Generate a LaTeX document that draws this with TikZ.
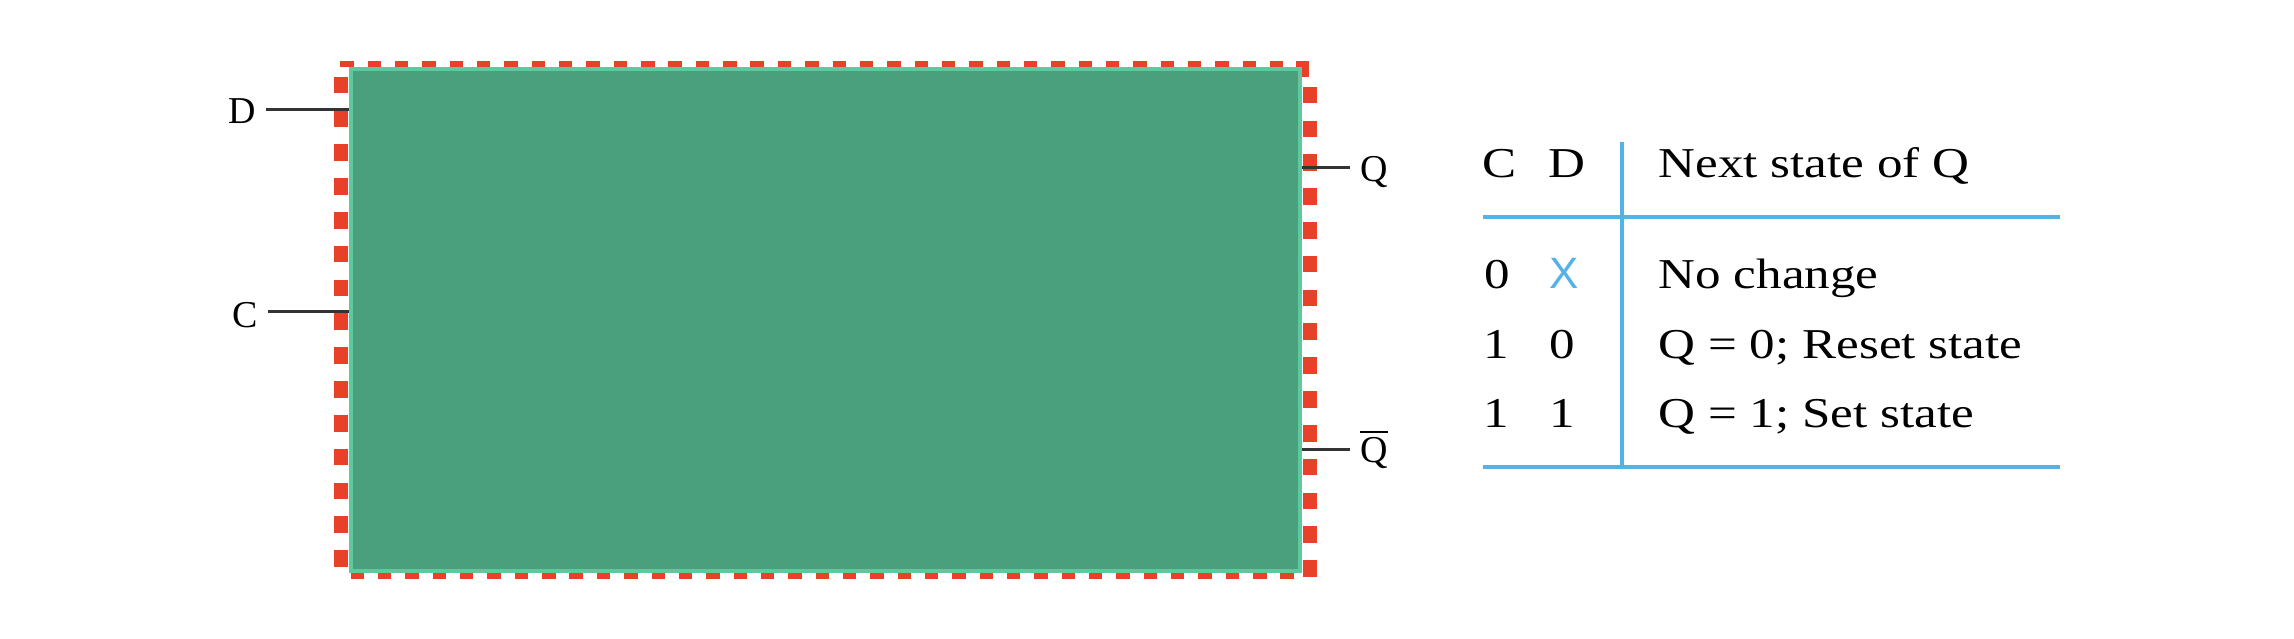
\documentclass[tikz,border=0pt]{standalone}
\usepackage{fontspec}
\setmainfont{Liberation Serif}
\newfontfamily\xsans{Liberation Sans}
\usepackage{graphicx}
\usetikzlibrary{positioning}
\definecolor{ffgreen}{HTML}{4A9F7C}
\definecolor{ffedge}{HTML}{5EC99D}
\definecolor{dashred}{HTML}{E8412A}
\definecolor{rulblue}{HTML}{55B2E6}
\definecolor{leadgray}{HTML}{333333}
\newcommand{\wide}[1]{\scalebox{1.2}[1]{#1}}

\begin{document}
\begin{tikzpicture}[x=0.01cm,y=-0.01cm]
  \tikzstyle{ffbox}=[draw=ffedge,fill=ffgreen,line width=0.04cm,minimum width=9.49cm,minimum height=5.02cm,inner sep=0pt]
  \tikzstyle{pinlbl}=[font=\fontsize{10.8}{13}\selectfont,inner sep=0pt,anchor=base]
  \tikzstyle{lead}=[draw=leadgray,line width=0.03cm]
  \tikzstyle{redh}=[draw=dashred,line width=0.06cm,dash pattern=on 0.134cm off 0.1393cm]
  \tikzstyle{redv}=[draw=dashred,line width=0.135cm,dash pattern=on 0.166cm off 0.172cm]
  \tikzstyle{cell}=[font=\fontsize{12.1}{14.5}\selectfont,inner sep=0pt,anchor=base]
  \tikzstyle{tblrule}=[draw=rulblue,line width=0.035cm]
  \useasboundingbox (0,0) rectangle (2294,638);
  % dashed outline round the block
  \draw[redh] (340.3,63.7) -- (1300,63.7);
  \draw[redh] (350.7,575.5) -- (1296,575.5);
  \draw[redv] (341,76.7) -- (341,570);
  \draw[redv] (1310,86.7) -- (1310,578);
  \draw[draw=dashred,line width=0.133cm] (1302.5,61) -- (1302.5,77);
  % the block
  \node[ffbox] (blk) at (825.5,320) {};
  % pins
  \node[pinlbl] (inD) at (242,123) {D};
  \node[pinlbl] (inC) at (245,327) {C};
  \node[pinlbl] (outQ) at (1374,181) {Q};
  \node[pinlbl] (outQn) at (1374,462) {$\overline{\hbox{Q}}$};
  \coordinate (pD) at (349,109);
  \coordinate (pC) at (349,311);
  \coordinate (pQ) at (1302,167);
  \coordinate (pQn) at (1302,449);
  \draw[lead] ([xshift=0.1cm]pD -| inD.east) -- (pD);
  \draw[lead] ([xshift=0.1cm]pC -| inC.east) -- (pC);
  \draw[lead] (pQ) -- ([xshift=-0.1cm]pQ -| outQ.west);
  \draw[lead] (pQn) -- ([xshift=-0.1cm]pQn -| outQn.west);
  % truth table
  \node[cell] (hC) at (1500,177) {\wide{C}};
  \node[cell] (hD) at (1567,177) {\wide{D}};
  \node[cell,anchor=base west] (hN) at (1658,177) {\wide{Next state of Q}};
  \node[cell] (r1c) at (1497,288) {\wide{0}};
  \node[cell,text=rulblue,font=\xsans\fontsize{12.5}{15}\selectfont] (r1d) at (1564,288) {X};
  \node[cell,anchor=base west] (r1t) at (1658,288) {\wide{No change}};
  \node[cell] (r2c) at (1496,358) {\wide{1}};
  \node[cell] (r2d) at (1562,358) {\wide{0}};
  \node[cell,anchor=base west] (r2t) at (1658,358) {\wide{Q = 0; Reset state}};
  \node[cell] (r3c) at (1496,427) {\wide{1}};
  \node[cell] (r3d) at (1562,427) {\wide{1}};
  \node[cell,anchor=base west] (r3t) at (1658,427) {\wide{Q = 1; Set state}};
  \draw[tblrule] (1483,217) -- (2060,217);
  \draw[tblrule] (1483,467) -- (2060,467);
  \draw[tblrule] (1622,142) -- (1622,467);
\end{tikzpicture}
\end{document}
